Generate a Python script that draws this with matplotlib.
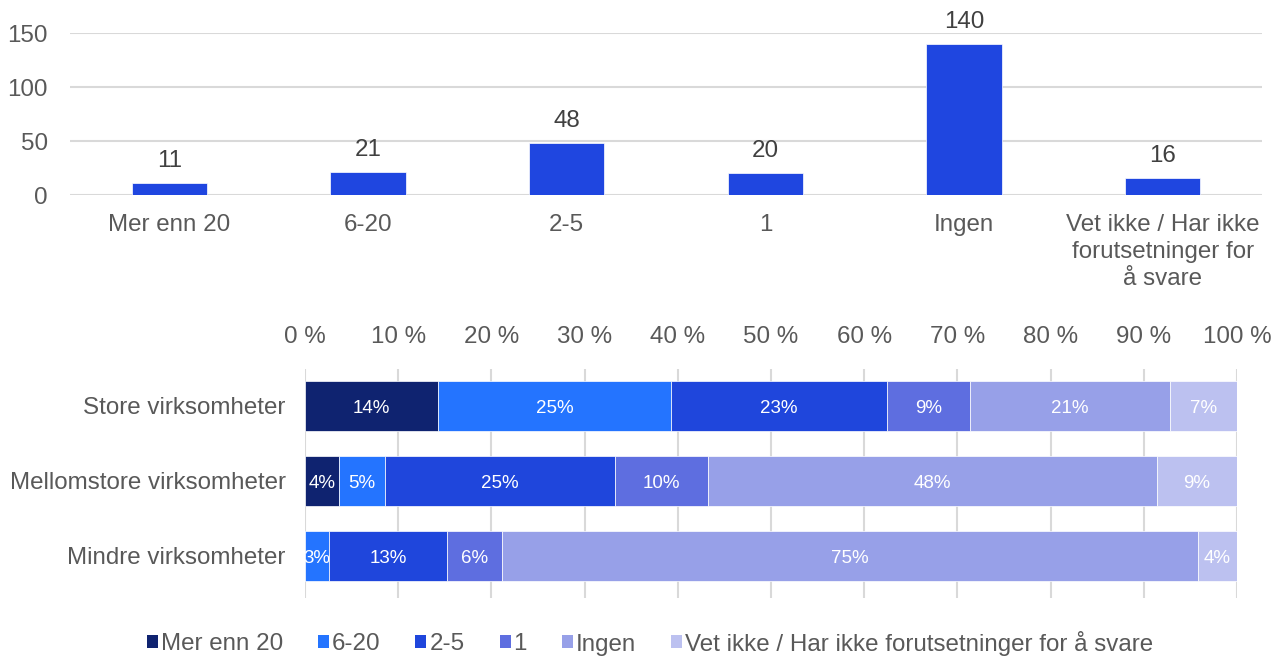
import matplotlib
matplotlib.use("Agg")
import matplotlib.pyplot as plt
from matplotlib.patches import Patch
from matplotlib.ticker import FuncFormatter

plt.rcParams['font.family'] = ['Liberation Sans', 'DejaVu Sans']

# Top chart: number of answers per category
top_categories = ["Mer enn 20", "6-20", "2-5", "1", "Ingen",
                  "Vet ikke / Har ikke\nforutsetninger for\nå svare"]
top_values = [11, 21, 48, 20, 140, 16]

# Bottom chart: share per company size (percent)
groups = ["Store virksomheter", "Mellomstore virksomheter", "Mindre virksomheter"]
series_names = ["Mer enn 20", "6-20", "2-5", "1", "Ingen",
                "Vet ikke / Har ikke forutsetninger for å svare"]
mer_enn_20 = [14.3, 3.6, 0.0]
s6_20 = [25.0, 5.0, 2.6]
s2_5 = [23.1, 24.7, 12.6]
s1 = [9.0, 9.9, 5.9]
ingen = [21.4, 48.2, 74.7]
vet_ikke = [7.2, 8.7, 4.3]
series_values = [mer_enn_20, s6_20, s2_5, s1, ingen, vet_ikke]
series_colors = ["#0f2370", "#2474ff", "#1f46dc", "#5e6ee0", "#97a0e8", "#bcc1f0"]

text_col = "#595959"
grid_col = "#d9d9d9"
fs = 17.4

fig = plt.figure(figsize=(12.71, 6.56), dpi=100)

# ---- top bar chart ----
ax1 = fig.add_axes([70 / 1271, 1 - 195 / 656, 1192 / 1271, 162 / 656])
bars = ax1.bar(range(len(top_values)), top_values, width=0.38, color="#1f46e0",
               edgecolor="white", linewidth=0.5, zorder=3)
ax1.bar_label(bars, labels=[str(v) for v in top_values], padding=8,
              fontsize=fs, color="#404040")
ax1.set_ylim(0, 150)
ax1.set_xlim(-0.5, len(top_values) - 0.5)
ax1.set_yticks([0, 50, 100, 150])
ax1.set_xticks(range(len(top_categories)))
ax1.set_xticklabels(top_categories, linespacing=1.28)
ax1.tick_params(axis="y", length=0, pad=16, labelsize=fs, labelcolor=text_col)
ax1.tick_params(axis="x", length=0, pad=14, labelsize=fs, labelcolor=text_col)
ax1.grid(axis="y", color=grid_col, linewidth=1.5, zorder=0)
for sp in ax1.spines.values():
    sp.set_visible(False)

# ---- bottom stacked bar chart ----
ax2 = fig.add_axes([305 / 1271, 1 - 598 / 656, 932 / 1271, 229 / 656])
left = [0.0] * len(groups)
for name, vals, col in zip(series_names, series_values, series_colors):
    rects = ax2.barh(range(len(groups)), vals, left=left, height=0.667,
                     color=col, edgecolor="white", linewidth=0.5, label=name, zorder=3)
    labels = [f"{v:.0f}%" if v > 0 else "" for v in vals]
    anns = ax2.bar_label(rects, labels=labels, label_type="center",
                         fontsize=13.5, color="white")
    for a in anns:
        a.set_clip_on(True)
        a.set_y(a.xyann[1] - 2)
    left = [l + v for l, v in zip(left, vals)]

ax2.set_xlim(0, 100)
ax2.set_ylim(2.56, -0.493)
ax2.set_xticks(range(0, 101, 10))
ax2.xaxis.set_major_formatter(FuncFormatter(lambda x, p: f"{x:.0f} %"))
ax2.xaxis.tick_top()
ax2.set_yticks(range(len(groups)))
ax2.set_yticklabels(groups)
ax2.tick_params(axis="x", length=0, pad=15, labelsize=fs, labelcolor=text_col)
ax2.tick_params(axis="y", length=0, pad=14, labelsize=fs, labelcolor=text_col)
ax2.grid(axis="x", color=grid_col, linewidth=1.5, zorder=0)
for sp in ax2.spines.values():
    sp.set_visible(False)

handles = [Patch(facecolor=c, label=n) for n, c in zip(series_names, series_colors)]
fig.legend(handles=handles, loc="center", bbox_to_anchor=(650 / 1271, 13 / 656),
           ncol=6, frameon=False, fontsize=fs, labelcolor=text_col,
           handlelength=0.46, handleheight=0.46, handletextpad=0.12,
           columnspacing=1.45, borderpad=0, borderaxespad=0)

fig.savefig("out.png", dpi=100)
